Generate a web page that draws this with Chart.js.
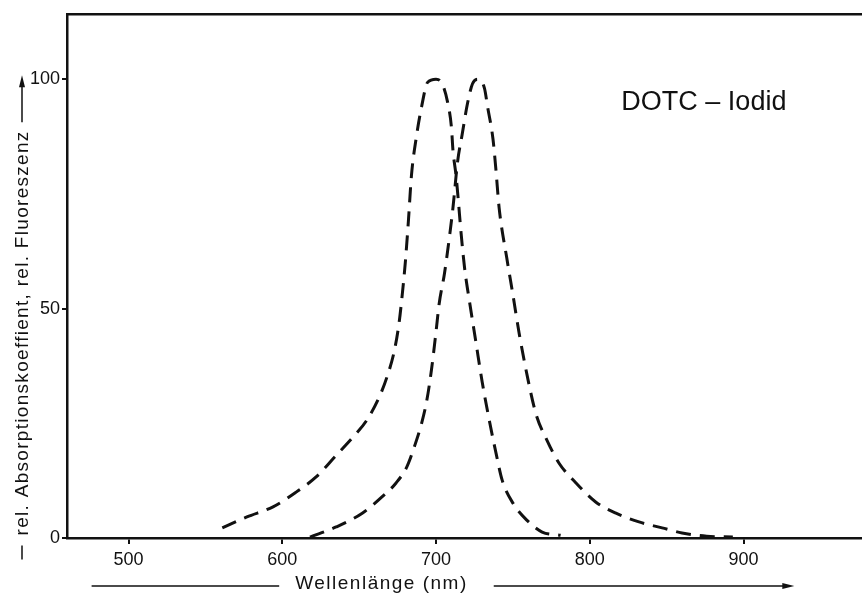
<!DOCTYPE html>
<html>
<head>
<meta charset="utf-8">
<script src="https://cdn.jsdelivr.net/npm/chart.js@4.4.1/dist/chart.umd.min.js"></script>
<style>
  html, body { margin: 0; padding: 0; background: #fff; }
  canvas { display: block; }
</style>
</head>
<body>
<canvas id="spectra" width="862" height="601"></canvas>
<script>
// tick labels
const wavelengthTicks = [500, 600, 700, 800, 900];
const valueTicks = [0, 50, 100];

// absorption (left curve)
const absNm  = [561, 577, 594, 609, 622, 635, 646, 655, 663, 668, 673, 676, 678, 680, 682, 684, 687, 690.6, 694.5, 700, 704, 707.5, 710, 711, 713, 714.5, 716, 718.5, 722, 726, 730, 735, 739, 743, 750, 759, 769, 781];
const absVal = [2.2, 4.6, 6.8, 10, 13.3, 18, 22, 25.7, 30.7, 35, 41, 47, 53, 60, 69, 79, 87, 94, 99.3, 100, 99, 95, 89.5, 84.5, 79, 73.5, 67.5, 59, 51, 42.5, 34, 25, 18.5, 12.6, 7.6, 3.9, 1.3, 0.6];

// fluorescence (right curve)
const fluNm  = [618, 635, 652, 665, 674, 681, 686, 690.6, 694, 697, 700, 702, 705.5, 709, 711, 714, 717, 720.5, 723.7, 727, 731.5, 733.5, 737, 739, 741, 746, 750, 754, 759.5, 765, 772, 780, 791, 804, 817, 832, 847, 860, 876, 893];
const fluVal = [0.2, 2.4, 5.4, 9, 12, 15.5, 20, 25, 30, 36.6, 45, 51, 57.7, 66.4, 72, 82, 88, 94.8, 99, 100, 98, 94, 87, 80, 72, 61, 53, 44.7, 35, 27, 21.4, 16.3, 12, 7.8, 5.4, 3.5, 2.2, 1.1, 0.4, 0.2];

const xMin = 460, xMax = 977;
const yMin = 0, yMax = 114.2;

const fontFamily = "'Liberation Sans', Arial, sans-serif";
const ink = '#111';

function toPoints(xs, ys) {
  return xs.map((x, i) => ({ x: x, y: ys[i] }));
}

function arrowHead(ctx, x, y, dir, len, half) {
  // dir: 'right' or 'up'
  ctx.beginPath();
  if (dir === 'right') {
    ctx.moveTo(x, y);
    ctx.lineTo(x - len, y - half);
    ctx.lineTo(x - len, y + half);
  } else {
    ctx.moveTo(x, y);
    ctx.lineTo(x - half, y + len);
    ctx.lineTo(x + half, y + len);
  }
  ctx.closePath();
  ctx.fill();
}

// texts and arrows around the frame
const decor = {
  id: 'decor',
  afterDraw(chart) {
    const ctx = chart.ctx;
    const xs = chart.scales.x, ys = chart.scales.y;
    ctx.save();
    ctx.fillStyle = ink;
    ctx.strokeStyle = ink;

    // label in the plot
    ctx.font = '27px ' + fontFamily;
    ctx.textAlign = 'left';
    ctx.textBaseline = 'middle';
    ctx.fillText('DOTC – Iodid', xs.getPixelForValue(820.5), ys.getPixelForValue(95));

    // x title with its lines
    const xt = 'Wellenlänge (nm)';
    ctx.font = '19px ' + fontFamily;
    ctx.letterSpacing = '1.5px';
    ctx.textAlign = 'center';
    const cx = xs.getPixelForValue(664.5), cy = 584;
    ctx.fillText(xt, cx, cy);
    const w = ctx.measureText(xt).width;
    ctx.lineWidth = 1.5;
    ctx.beginPath();
    ctx.moveTo(xs.getPixelForValue(476), cy + 2);
    ctx.lineTo(cx - w / 2 - 16, cy + 2);
    ctx.moveTo(cx + w / 2 + 26, cy + 2);
    ctx.lineTo(xs.getPixelForValue(933) - 8, cy + 2);
    ctx.stroke();
    arrowHead(ctx, xs.getPixelForValue(933), cy + 2, 'right', 12, 3);

    // y title, rotated, with dash and arrow
    const yt = 'rel. Absorptionskoeffient, rel. Fluoreszenz';
    const tx = 23, ty = ys.getPixelForValue(44.7);
    ctx.save();
    ctx.translate(tx, ty);
    ctx.rotate(-Math.PI / 2);
    ctx.font = '19px ' + fontFamily;
    ctx.letterSpacing = '1.3px';
    ctx.textAlign = 'center';
    ctx.fillText(yt, 0, 0);
    const wy = ctx.measureText(yt).width;
    ctx.restore();
    ctx.lineWidth = 1.5;
    ctx.beginPath();
    ctx.moveTo(tx - 1, ty + wy / 2 + 10);
    ctx.lineTo(tx - 1, ty + wy / 2 + 24);
    ctx.moveTo(tx - 1, ty - wy / 2 - 8);
    ctx.lineTo(tx - 1, ys.getPixelForValue(100) + 6);
    ctx.stroke();
    arrowHead(ctx, tx - 1, ys.getPixelForValue(100) - 4, 'up', 12, 3);

    ctx.restore();
  }
};

const lineStyle = {
  borderColor: ink,
  borderWidth: 3,
  borderDash: [15, 9],
  pointRadius: 0,
  fill: false,
  cubicInterpolationMode: 'monotone'
};

new Chart(document.getElementById('spectra'), {
  type: 'line',
  data: {
    datasets: [
      Object.assign({ label: 'Absorption', data: toPoints(absNm, absVal) }, lineStyle),
      Object.assign({ label: 'Fluoreszenz', data: toPoints(fluNm, fluVal) }, lineStyle)
    ]
  },
  options: {
    responsive: false,
    animation: false,
    devicePixelRatio: 1,
    layout: { padding: { top: 14, right: 0, left: 0, bottom: 0 } },
    plugins: {
      legend: { display: false },
      tooltip: { enabled: false }
    },
    scales: {
      x: {
        type: 'linear',
        min: xMin,
        max: xMax,
        afterBuildTicks: s => { s.ticks = wavelengthTicks.map(v => ({ value: v })); },
        afterFit: s => { s.height = 63; },
        grid: { display: true, drawOnChartArea: false, drawTicks: true, tickLength: 6, tickColor: ink, lineWidth: 2 },
        border: { display: true, color: ink, width: 2.5 },
        ticks: { color: ink, padding: 5, maxRotation: 0, font: { size: 18, family: fontFamily } }
      },
      xTop: {
        type: 'linear',
        position: 'top',
        min: xMin,
        max: xMax,
        afterFit: s => { s.height = 0; },
        grid: { display: false },
        border: { display: true, color: ink, width: 2.5 },
        ticks: { display: false }
      },
      y: {
        min: yMin,
        max: yMax,
        afterBuildTicks: s => { s.ticks = valueTicks.map(v => ({ value: v })); },
        afterFit: s => { s.width = 67; },
        grid: { display: true, drawOnChartArea: false, drawTicks: true, tickLength: 5, tickColor: ink, lineWidth: 2 },
        border: { display: true, color: ink, width: 2.5 },
        ticks: { color: ink, padding: 2, font: { size: 18, family: fontFamily } }
      }
    }
  },
  plugins: [decor]
});
</script>
</body>
</html>
